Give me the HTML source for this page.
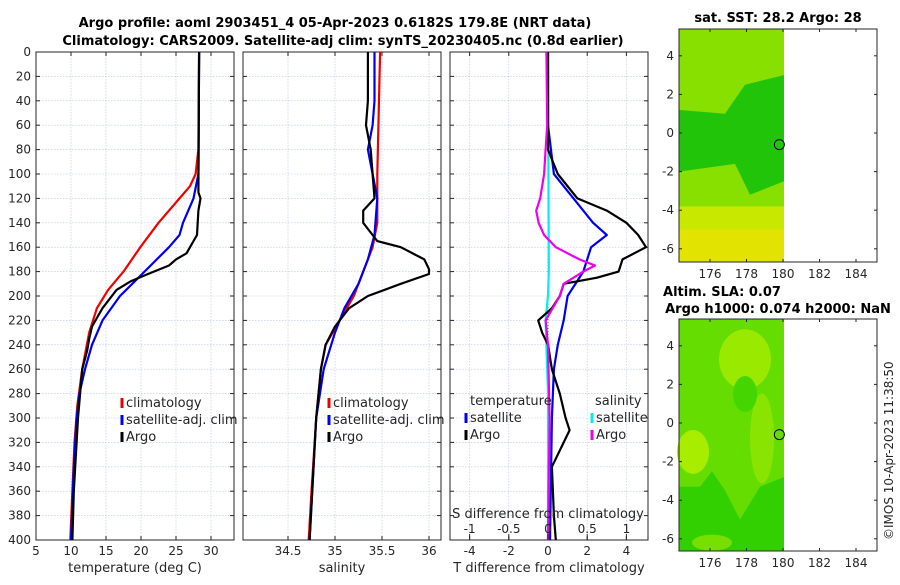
<!DOCTYPE html>
<html><head><meta charset="utf-8"><style>
body{margin:0;background:#fff;}
svg{font-family:"DejaVu Sans","Liberation Sans",sans-serif;}
</style></head><body>
<svg id="c" width="900" height="580" viewBox="0 0 900 580"></svg>
<script>
const depthTicks=[0,20,40,60,80,100,120,140,160,180,200,220,240,260,280,300,320,340,360,380,400];
const tTicks=[5,10,15,20,25,30];
const sTicks=[34.5,35,35.5,36];
const dTTicks=[-4,-2,0,2,4];
const dSTicks=[-1,-0.5,0,0.5,1];
const lonTicks=[176,178,180,182,184];
const latTicks=[4,2,0,-2,-4,-6];
const tClimDepth=[0,80,100,110,120,140,160,180,195,210,230,260,290,320,360,400];
const tClim=[28.3,28.2,27.8,27,25.5,22.5,19.9,17.5,15.3,13.7,12.6,11.6,10.9,10.5,10.2,9.9];
const tSatDepth=[0,100,120,140,150,160,180,200,220,240,260,280,300,340,400];
const tSat=[28.3,28.2,27.5,26,25.5,24,20.5,17,14.5,13,12,11.2,10.8,10.4,10];
const tArgoDepth=[0,115,120,130,150,165,170,175,182,188,195,210,225,235,245,260,280,300,320,360,400];
const tArgo=[28.3,28.2,28.5,28.2,28,26.5,25,24,21,18.5,16.5,14.5,13,12.6,12.3,11.6,11.3,11,10.8,10.4,10.2];
const sClimDepth=[0,100,140,160,180,200,220,240,260,300,360,400];
const sClim=[35.48,35.45,35.45,35.4,35.3,35.2,35.05,34.9,34.85,34.8,34.75,34.72];
const sSatDepth=[0,40,60,80,100,120,150,170,190,210,230,260,300,400];
const sSat=[35.42,35.42,35.4,35.35,35.4,35.45,35.42,35.35,35.25,35.1,35,34.88,34.8,34.73];
const sArgoDepth=[0,20,40,60,80,100,120,130,140,150,155,160,170,178,182,190,200,210,225,240,260,300,400];
const sArgo=[35.35,35.35,35.35,35.33,35.38,35.4,35.42,35.3,35.3,35.4,35.45,35.7,35.95,36.0,36.0,35.7,35.35,35.15,35.0,34.9,34.85,34.8,34.73];
const dTSatDepth=[0,60,100,120,140,150,160,180,200,220,240,260,300,400];
const dTSat=[0,0,0.3,1.3,2.3,3,2.2,1.8,1,0.8,0.5,0.3,0.2,0.1];
const dTArgoDepth=[0,80,100,120,130,140,150,160,170,180,185,190,200,210,220,230,240,260,280,300,310,320,340,380,400];
const dTArgo=[0,0,0.5,1.5,3,4,4.6,5,3.8,3.6,2.5,0.8,0.6,0.2,-0.5,-0.3,0,0.2,0.6,0.9,1.1,0.8,0.2,0.3,0.4];
const dSArgoDepth=[0,60,80,100,120,130,140,150,160,170,175,180,190,200,220,240,300,400];
const dSArgo=[-0.02,-0.01,-0.03,-0.05,-0.1,-0.15,-0.12,-0.05,0.1,0.4,0.6,0.45,0.2,0.15,-0.03,0,0.02,0];
const dSSatDepth=[0,180,200,220,280,400];
const dSSat=[0,0.01,0,-0.03,0,0];

const svg=document.getElementById('c');
const NS='http://www.w3.org/2000/svg';
function mk(tag,attrs,parent){const e=document.createElementNS(NS,tag);for(const k in attrs)e.setAttribute(k,attrs[k]);(parent||svg).appendChild(e);return e;}
function txt(x,y,s,attrs,parent){const e=mk('text',Object.assign({x:x,y:y,'font-size':12,fill:'#262626'},attrs||{}),parent);e.textContent=s;return e;}
const yTop=52,yBot=540;
const yD=d=>yTop+(yBot-yTop)*d/400;
const panels=[
 {x0:36,x1:234,v0:5,v1:5+198/7,ticks:tTicks,label:'temperature (deg C)',name:'temperature'},
 {x0:243,x1:441,v0:34.5-45/94,v1:34.5+153/94,ticks:sTicks,label:'salinity',name:'salinity'},
 {x0:450,x1:648,v0:-98/19.6,v1:100/19.6,ticks:dTTicks,label:'T difference from climatology',name:'difference'}
];
panels.forEach((p,i)=>{
 p.xv=v=>p.x0+(p.x1-p.x0)*(v-p.v0)/(p.v1-p.v0);
 const g=mk('g',{});
 
 
 mk('rect',{x:p.x0,y:yTop,width:p.x1-p.x0,height:yBot-yTop,fill:'#fff'},g);
 depthTicks.forEach(d=>{mk('line',{x1:p.x0,x2:p.x1,y1:yD(d),y2:yD(d),stroke:'#b8c4e0','stroke-width':0.6,'stroke-dasharray':'1.5,1.5'},g);
  mk('line',{x1:p.x0,x2:p.x0+4,y1:yD(d),y2:yD(d),stroke:'#262626'},g);mk('line',{x1:p.x1,x2:p.x1-4,y1:yD(d),y2:yD(d),stroke:'#262626'},g);
  if(i==0)txt(p.x0-5,yD(d)+4,String(d),{'text-anchor':'end'},g);});
 p.ticks.forEach(v=>{const x=p.xv(v);mk('line',{x1:x,x2:x,y1:yTop,y2:yBot,stroke:'#b8c4e0','stroke-width':0.6,'stroke-dasharray':'1.5,1.5'},g);
  mk('line',{x1:x,x2:x,y1:yBot,y2:yBot-4,stroke:'#262626'},g);mk('line',{x1:x,x2:x,y1:yTop,y2:yTop+4,stroke:'#262626'},g);
  txt(x,555,String(v),{'text-anchor':'middle'},g);});
 mk('rect',{x:p.x0,y:yTop,width:p.x1-p.x0,height:yBot-yTop,fill:'none',stroke:'#262626','stroke-width':1},g);
 const lab=txt((p.x0+p.x1)/2,572,p.label,{'text-anchor':'middle','font-size':13},g);
 
});
function line(p,ds,vs,color,name,scale){
 const pts=ds.map((d,k)=>p.xv(vs[k]*(scale||1)).toFixed(1)+','+yD(d).toFixed(1)).join(' ');
 const e=mk('polyline',{points:pts,fill:'none',stroke:color,'stroke-width':2.2,'stroke-linejoin':'round'});
 
 
}
const [P1,P2,P3]=panels;
line(P1,tClimDepth,tClim,'#ee0000','temp-climatology-line');
line(P1,tSatDepth,tSat,'#0000ee','temp-satellite-line');
line(P1,tArgoDepth,tArgo,'#000','temp-argo-line');
line(P2,sClimDepth,sClim,'#ee0000','sal-climatology-line');
line(P2,sSatDepth,sSat,'#0000ee','sal-satellite-line');
line(P2,sArgoDepth,sArgo,'#000','sal-argo-line');
mk('line',{x1:P3.xv(0),x2:P3.xv(0),y1:yTop,y2:yBot,stroke:'#00a000','stroke-width':1,'stroke-dasharray':'1,2'});
line(P3,dSSatDepth,dSSat,'#00eeee','sal-diff-satellite-line',4);
line(P3,dTSatDepth,dTSat,'#0000ee','temp-diff-satellite-line');
line(P3,dTArgoDepth,dTArgo,'#000','temp-diff-argo-line');
line(P3,dSArgoDepth,dSArgo,'#ee00ee','sal-diff-argo-line',4);
txt(548,518,'S difference from climatology',{'text-anchor':'middle','font-size':13});
dSTicks.forEach(v=>{const x=P3.xv(v*4);txt(x,533,String(v),{'text-anchor':'middle'});mk('line',{x1:x,x2:x,y1:yBot,y2:yBot-6,stroke:'#262626'});});
function legend(x,y,items,name){const g=mk('g',{});
 items.forEach((it,k)=>{mk('line',{x1:x,x2:x,y1:y+k*17-9,y2:y+k*17+1,stroke:it[1],'stroke-width':3},g);txt(x+4,y+k*17,it[0],{'font-size':13},g);});}
legend(122,407,[['climatology','#ee0000'],['satellite-adj. clim','#0000ee'],['Argo','#000']],'temp-legend');
legend(329,407,[['climatology','#ee0000'],['satellite-adj. clim','#0000ee'],['Argo','#000']],'sal-legend');
txt(470,405,'temperature',{'font-size':13});
legend(466,422,[['satellite','#0000ee'],['Argo','#000']],'temp-diff-legend');
txt(595,405,'salinity',{'font-size':13});
legend(592,422,[['satellite','#00eeee'],['Argo','#ee00ee']],'sal-diff-legend');
const t1=txt(335,27,'Argo profile: aoml 2903451_4 05-Apr-2023 0.6182S 179.8E (NRT data)',{'text-anchor':'middle','font-size':13,'font-weight':'bold',fill:'#000'});

txt(343,45,'Climatology: CARS2009. Satellite-adj clim: synTS_20230405.nc (0.8d earlier)',{'text-anchor':'middle','font-size':13,'font-weight':'bold',fill:'#000'});
function map(y0,y1,lat0,name,dark){
 const g=mk('g',{});
 const lonx=l=>710+(l-176)*(856-710)/8;
 const laty=l=>lat0-l*19.3;
 mk('rect',{x:679,y:y0,width:105,height:y1-y0,fill:dark?'#88e000':'#66dd00'},g);
 if(dark){
  mk('rect',{x:679,y:laty(-3.8),width:105,height:y1-laty(-3.8),fill:'#c8e800'},g);
  mk('rect',{x:679,y:laty(-5),width:105,height:y1-laty(-5),fill:'#e2e400'},g);
  mk('path',{d:`M679 ${laty(1.2)} L725 ${laty(1)} L745 ${laty(2.5)} L784 ${laty(3)} L784 ${laty(-2.5)} L750 ${laty(-3.2)} L735 ${laty(-1.6)} L679 ${laty(-2)}Z`,fill:'#22c40a'},g);
 } else {
  mk('ellipse',{cx:745,cy:laty(3.3),rx:26,ry:30,fill:'#99ea00'},g);
  mk('ellipse',{cx:693,cy:laty(-1.5),rx:16,ry:22,fill:'#a8ec00'},g);
  mk('ellipse',{cx:762,cy:laty(-0.8),rx:12,ry:45,fill:'#88e400'},g);
  mk('path',{d:`M679 ${laty(-3.3)} L700 ${laty(-3.3)} L712 ${laty(-2.5)} L725 ${laty(-3.5)} L740 ${laty(-5)} L760 ${laty(-3.3)} L784 ${laty(-2.8)} L784 ${laty(-6.6)} L679 ${laty(-6.6)}Z`,fill:'#33d000'},g);
  mk('ellipse',{cx:712,cy:laty(-6.2),rx:20,ry:8,fill:'#77e000'},g);
  mk('ellipse',{cx:745,cy:laty(1.5),rx:12,ry:18,fill:'#44d600'},g);
 }
 mk('circle',{cx:lonx(179.8),cy:laty(-0.6),r:5,fill:'none',stroke:'#000'},g);
 mk('rect',{x:679,y:y0,width:198,height:y1-y0,fill:'none',stroke:'#262626'},g);
 lonTicks.forEach(l=>{const x=lonx(l);txt(x,y1+16,String(l),{'text-anchor':'middle'},g);mk('line',{x1:x,x2:x,y1:y1,y2:y1-3,stroke:'#262626'},g);mk('line',{x1:x,x2:x,y1:y0,y2:y0+3,stroke:'#262626'},g);});
 latTicks.forEach(l=>{const y=laty(l);txt(674,y+4,String(l),{'text-anchor':'end'},g);mk('line',{x1:679,x2:682,y1:y,y2:y,stroke:'#262626'},g);mk('line',{x1:877,x2:874,y1:y,y2:y,stroke:'#262626'},g);});
}
map(29,262,133,'sst-map',true);
map(319,551,423,'sla-map',false);
txt(778,22,'sat. SST: 28.2 Argo: 28',{'text-anchor':'middle','font-size':13,'font-weight':'bold',fill:'#000'});
txt(722,296,'Altim. SLA: 0.07',{'text-anchor':'middle','font-size':13,'font-weight':'bold',fill:'#000'});
txt(778,313,'Argo h1000: 0.074 h2000: NaN',{'text-anchor':'middle','font-size':13,'font-weight':'bold',fill:'#000'});
txt(0,0,'©IMOS 10-Apr-2023 11:38:50',{transform:'translate(893,540) rotate(-90)','font-size':12});
</script>
</body></html>
